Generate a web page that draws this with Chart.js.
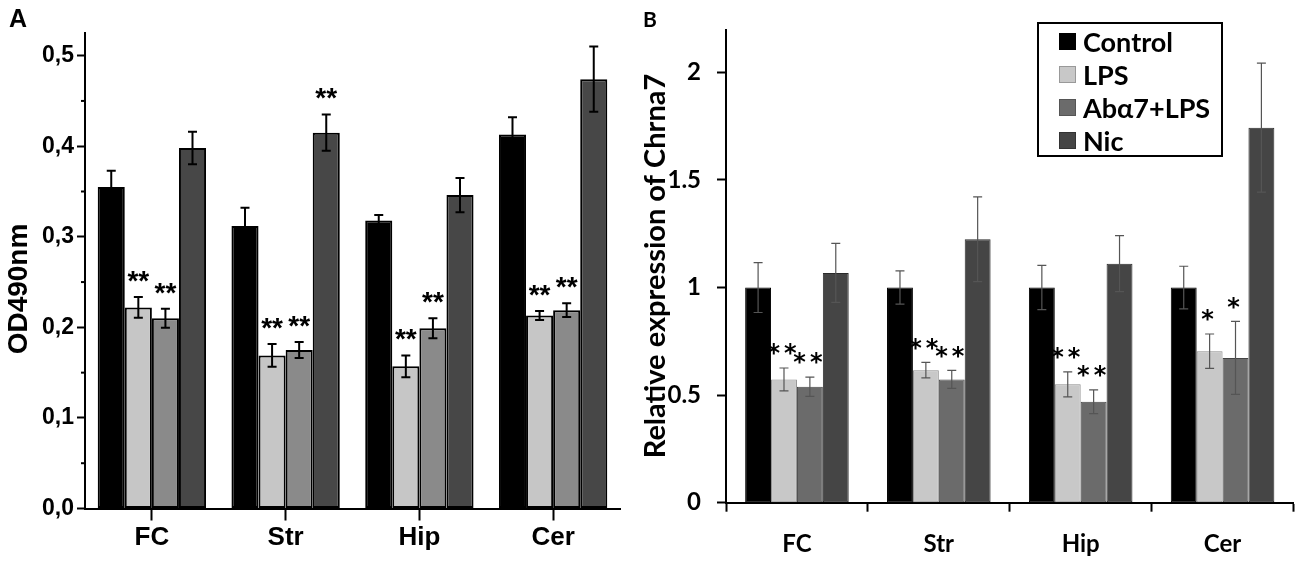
<!DOCTYPE html>
<html><head><meta charset="utf-8">
<script src="https://cdn.jsdelivr.net/npm/chart.js@4.4.1/dist/chart.umd.min.js"></script>
<style>
html,body{margin:0;padding:0;background:#fff;overflow:hidden;}
#wrap{position:relative;width:1300px;height:561px;background:#fff;}
#ca{position:absolute;left:0;top:0;}
#cb{position:absolute;left:640px;top:0;}
#legend{position:absolute;left:1037px;top:22px;width:186px;height:135px;border:2px solid #000;box-sizing:border-box;padding-top:1px;}
#legend .row{display:flex;align-items:center;height:33px;padding-left:20px;font-family:Lato,sans-serif;font-weight:bold;font-size:27px;color:#000;}
#legend .sw{width:17px;height:17px;box-sizing:border-box;margin-right:7px;}
</style></head>
<body><div id="wrap">
<canvas id="ca" width="640" height="561"></canvas>
<canvas id="cb" width="660" height="561"></canvas>
<div id="legend"></div>
</div>
<script>
// ---------- shared data ----------
const categories = ['FC', 'Str', 'Hip', 'Cer'];
const seriesNames = ['Control', 'LPS', 'Abα7+LPS', 'Nic'];

// ---------- Panel A: OD490nm ----------
const odControl    = [0.355, 0.312, 0.318, 0.413];
const odControlErr = [0.018, 0.020, 0.006, 0.019];
const odLPS        = [0.222, 0.169, 0.157, 0.213];
const odLPSErr     = [0.0115, 0.0126, 0.012, 0.005];
const odAba        = [0.210, 0.175, 0.199, 0.219];
const odAbaErr     = [0.0105, 0.0088, 0.011, 0.0075];
const odNic        = [0.398, 0.415, 0.346, 0.474];
const odNicErr     = [0.018, 0.020, 0.019, 0.036];
const odStarsControl = ['', '', '', ''];
const odStarsLPS     = ['**', '**', '**', '**'];
const odStarsAba     = ['**', '**', '**', '**'];
const odStarsNic     = ['', '**', '', ''];
const yTickValsA   = [0, 0.1, 0.2, 0.3, 0.4, 0.5];
const yTickLabelsA = ['0,0', '0,1', '0,2', '0,3', '0,4', '0,5'];
const yMinorTicksA = [0.05, 0.15, 0.25, 0.35, 0.45];

// ---------- Panel B: relative expression of Chrna7 ----------
const rqControl    = [1, 1, 1, 1];
const rqControlErr = [0.116, 0.077, 0.103, 0.099];
const rqLPS        = [0.573, 0.616, 0.550, 0.704];
const rqLPSErr     = [0.053, 0.036, 0.058, 0.080];
const rqAba        = [0.539, 0.573, 0.469, 0.673];
const rqAbaErr     = [0.045, 0.042, 0.055, 0.170];
const rqNic        = [1.068, 1.224, 1.111, 1.743];
const rqNicErr     = [0.137, 0.197, 0.130, 0.300];
const rqStarsControl = ['', '', '', ''];
const rqStarsLPS     = ['**', '**', '**', '*'];
const rqStarsAba     = ['**', '**', '**', '*'];
const rqStarsNic     = ['', '', '', ''];
const yTickValsB   = [0, 0.5, 1, 1.5, 2];
const yTickLabelsB = ['0', '0.5', '1', '1.5', '2'];

// ---------- styles ----------
const fillA = ['#000000', '#c6c6c6', '#8a8a8a', '#474747'];
const fillB = ['#000000', '#c8c8c8', '#6b6b6b', '#454545'];
const edgeB = ['#000000', '#8a8a8a', '#444444', '#2a2a2a'];

function errPlugin(id, errs, stars, cfg) {
  return {
    id: id,
    afterDatasetsDraw(chart) {
      const ctx = chart.ctx, ys = chart.scales.y;
      ctx.save();
      chart.data.datasets.forEach((ds, i) => {
        const meta = chart.getDatasetMeta(i);
        meta.data.forEach((bar, j) => {
          const v = ds.data[j], e = errs[i][j];
          const yt = ys.getPixelForValue(v + e), yb = ys.getPixelForValue(v - e);
          ctx.strokeStyle = cfg.color; ctx.lineWidth = cfg.width;
          ctx.beginPath();
          ctx.moveTo(bar.x, yt); ctx.lineTo(bar.x, yb);
          ctx.moveTo(bar.x - cfg.cap, yt); ctx.lineTo(bar.x + cfg.cap, yt);
          ctx.moveTo(bar.x - cfg.cap, yb); ctx.lineTo(bar.x + cfg.cap, yb);
          ctx.stroke();
          const s = stars[i][j];
          if (s) {
            ctx.fillStyle = '#000';
            ctx.font = cfg.starFont;
            ctx.textAlign = 'center';
            ctx.textBaseline = 'middle';
            if (cfg.spacing) ctx.letterSpacing = cfg.spacing;
            ctx.fillText(s, bar.x, yt - cfg.starOff);
            ctx.letterSpacing = '0px';
          }
        });
      });
      ctx.restore();
    }
  };
}

// ---------- Chart A ----------
const dsA = [odControl, odLPS, odAba, odNic].map((d, i) => ({
  label: seriesNames[i], data: d, backgroundColor: fillA[i], borderColor: '#000', borderWidth: 2,
  borderSkipped: false, categoryPercentage: 0.81, barPercentage: 1.0
}));

const decoA = {
  id: 'decoA',
  afterDraw(chart) {
    const ctx = chart.ctx, ys = chart.scales.y, left = chart.chartArea.left;
    ctx.save();
    ctx.strokeStyle = '#000'; ctx.lineWidth = 2;
    yMinorTicksA.forEach(v => {
      const y = ys.getPixelForValue(v);
      ctx.beginPath(); ctx.moveTo(left - 4, y); ctx.lineTo(left, y); ctx.stroke();
    });
    ctx.fillStyle = '#000';
    ctx.font = 'bold 25px "Liberation Sans", Arial, sans-serif';
    ctx.textAlign = 'left'; ctx.textBaseline = 'alphabetic';
    ctx.fillText('A', 9, 27);
    ctx.translate(27, 289); ctx.rotate(-Math.PI / 2);
    ctx.font = 'bold 28px "Liberation Sans", Arial, sans-serif';
    ctx.textAlign = 'center';
    ctx.fillText('OD490nm', 0, 0);
    ctx.restore();
  }
};

new Chart(document.getElementById('ca'), {
  type: 'bar',
  data: { labels: categories, datasets: dsA },
  options: {
    responsive: false, animation: false,
    layout: { padding: { top: 33, right: 20, left: 0, bottom: 0 } },
    plugins: { legend: { display: false }, tooltip: { enabled: false } },
    scales: {
      x: {
        grid: { offset: false, drawOnChartArea: false, drawTicks: true, tickLength: 12, tickColor: '#000', tickWidth: 2 },
        border: { display: true, color: '#000', width: 2 },
        ticks: { color: '#000', padding: 2, maxRotation: 0, font: { family: '"Liberation Sans", Arial, sans-serif', weight: 'bold', size: 26 } },
        afterFit: s => { s.height = 52.5; }
      },
      y: {
        min: 0, max: 0.525,
        afterBuildTicks: s => { s.ticks = yTickValsA.map(v => ({ value: v })); },
        grid: { drawOnChartArea: false, drawTicks: true, tickLength: 8, tickColor: '#000', tickWidth: 2 },
        border: { display: true, color: '#000', width: 2 },
        ticks: { color: '#000', padding: 3, callback: (v, i) => yTickLabelsA[i], font: { family: '"Liberation Sans", Arial, sans-serif', weight: 'bold', size: 23 } },
        afterFit: s => { s.width = 85; }
      }
    }
  },
  plugins: [decoA, errPlugin('errA', [odControlErr, odLPSErr, odAbaErr, odNicErr],
    [odStarsControl, odStarsLPS, odStarsAba, odStarsNic],
    { color: '#000', width: 2, cap: 4.5, starOff: 15, starFont: 'bold 28px "Liberation Sans", Arial, sans-serif' })]
});

// ---------- Chart B ----------
const dsB = [rqControl, rqLPS, rqAba, rqNic].map((d, i) => ({
  label: seriesNames[i], data: d, backgroundColor: fillB[i], borderColor: edgeB[i], borderWidth: 1,
  borderSkipped: false, categoryPercentage: 0.73, barPercentage: 1.0
}));

const decoB = {
  id: 'decoB',
  afterDraw(chart) {
    const ctx = chart.ctx;
    ctx.save();
    ctx.fillStyle = '#000';
    ctx.font = 'bold 21px Lato, sans-serif';
    ctx.textAlign = 'left'; ctx.textBaseline = 'alphabetic';
    ctx.fillText('B', 3, 27);
    ctx.translate(25, 266); ctx.rotate(-Math.PI / 2);
    ctx.font = 'bold 29px Lato, sans-serif';
    ctx.textAlign = 'center';
    ctx.fillText('Relative expression of Chrna7', 0, 0);
    ctx.restore();
  }
};

new Chart(document.getElementById('cb'), {
  type: 'bar',
  data: { labels: categories, datasets: dsB },
  options: {
    responsive: false, animation: false,
    layout: { padding: { top: 30, right: 6.5, left: 0, bottom: 0 } },
    plugins: { legend: { display: false }, tooltip: { enabled: false } },
    scales: {
      x: {
        grid: { offset: true, drawOnChartArea: false, drawTicks: true, tickLength: 9, tickColor: '#000', tickWidth: 2 },
        border: { display: true, color: '#000', width: 2 },
        ticks: { color: '#000', padding: 18, maxRotation: 0, font: { family: 'Lato, sans-serif', weight: 'bold', size: 24 } },
        afterFit: s => { s.height = 58.3; }
      },
      y: {
        min: 0, max: 2.195,
        afterBuildTicks: s => { s.ticks = yTickValsB.map(v => ({ value: v })); },
        grid: { drawOnChartArea: false, drawTicks: true, tickLength: 9, tickColor: '#000', tickWidth: 2 },
        border: { display: true, color: '#000', width: 2 },
        ticks: { color: '#000', padding: 16, callback: (v, i) => yTickLabelsB[i], font: { family: 'Lato, sans-serif', weight: 'bold', size: 24 } },
        afterFit: s => { s.width = 86; }
      }
    }
  },
  plugins: [decoB, errPlugin('errB', [rqControlErr, rqLPSErr, rqAbaErr, rqNicErr],
    [rqStarsControl, rqStarsLPS, rqStarsAba, rqStarsNic],
    { color: '#555', width: 1.2, cap: 4.5, starOff: 13, spacing: '4px', starFont: 'bold 24px "DejaVu Sans", sans-serif' })]
});

// ---------- Legend (HTML, from series names) ----------
const legendSw = [
  'background:#000;',
  'background:#c8c8c8;border:1px solid #999;',
  'background:#6b6b6b;border:1px solid #555;',
  'background:#454545;border:1px solid #333;'
];
const lg = document.getElementById('legend');
seriesNames.forEach((n, i) => {
  const r = document.createElement('div'); r.className = 'row';
  const sw = document.createElement('div'); sw.className = 'sw'; sw.style.cssText = legendSw[i];
  const t = document.createElement('span'); t.textContent = n;
  r.appendChild(sw); r.appendChild(t); lg.appendChild(r);
});
</script>
</body></html>
